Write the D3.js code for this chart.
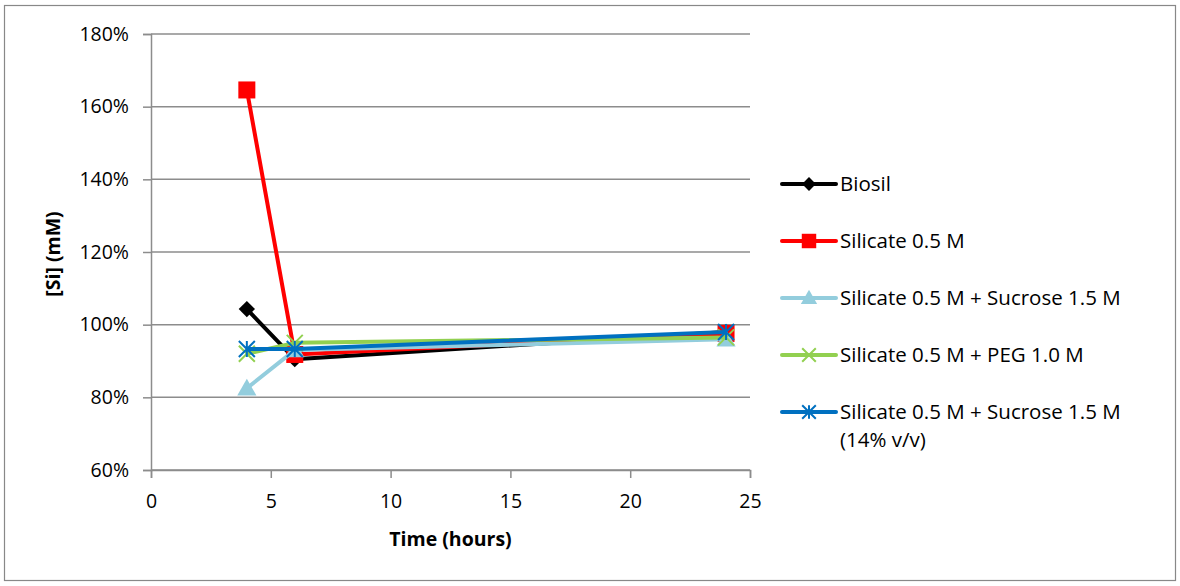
<!DOCTYPE html>
<html>
<head>
<meta charset="utf-8">
<script src="https://cdn.jsdelivr.net/npm/d3@7"></script>
<style>
  body { margin: 0; background: #fff; }
  text { font-family: "Open Sans", "Liberation Sans", sans-serif; fill: #000; }
</style>
</head>
<body>
<div id="chart"></div>
<script>
const times = [4, 6, 24];
const seriesNames = [
  "Biosil",
  "Silicate 0.5 M",
  "Silicate 0.5 M + Sucrose 1.5 M",
  "Silicate 0.5 M + PEG 1.0 M",
  "Silicate 0.5 M + Sucrose 1.5 M (14% v/v)"
];
const biosil = [104.3, 90.5, 98.0];
const silicate = [164.6, 91.8, 97.6];
const sucrose = [82.5, 93.0, 96.0];
const peg = [92.0, 95.0, 96.5];
const sucrose14 = [93.3, 93.3, 98.0];
const yTicks = [60, 80, 100, 120, 140, 160, 180];
const xTicks = [0, 5, 10, 15, 20, 25];

const colors = ["#000000", "#ff0000", "#93cddd", "#92d050", "#0070c0"];
const symbols = ["diamond", "square", "triangle", "x", "star"];
const allValues = [biosil, silicate, sucrose, peg, sucrose14];

const W = 1180, H = 586;
const margin = { top: 34, left: 151 };
const width = 599, height = 436;

const svg = d3.select("#chart").append("svg")
  .attr("width", W).attr("height", H);

// outer frame
svg.append("rect")
  .attr("x", 4.5).attr("y", 5.5).attr("width", 1171).attr("height", 575)
  .attr("fill", "#fff").attr("stroke", "#888").attr("stroke-width", 1.2);

const g = svg.append("g").attr("transform", `translate(${margin.left},${margin.top})`);

const x = d3.scaleLinear().domain([0, 25]).range([0, width]);
const y = d3.scaleLinear().domain([60, 180]).range([height, 0]);

// gridlines
g.selectAll(".grid").data(yTicks).enter().append("line")
  .attr("x1", 0).attr("x2", width)
  .attr("y1", d => y(d)).attr("y2", d => y(d))
  .attr("stroke", "#8c8c8c").attr("stroke-width", 1.5);

// y axis
const yAxis = g.append("g")
  .call(d3.axisLeft(y).tickValues(yTicks).tickSize(8).tickPadding(14).tickFormat(d => d + "%"));
yAxis.selectAll("path, line").attr("stroke", "#8c8c8c").attr("stroke-width", 1.5);
yAxis.selectAll("text").style("font-size", "19.5px").attr("fill", "#000");

// x axis
const xAxis = g.append("g").attr("transform", `translate(0,${height})`)
  .call(d3.axisBottom(x).tickValues(xTicks).tickSize(8).tickPadding(16));
xAxis.selectAll("path, line").attr("stroke", "#8c8c8c").attr("stroke-width", 1.5);
xAxis.selectAll("text").style("font-size", "19.5px").attr("fill", "#000");

// axis titles
svg.append("text")
  .attr("transform", `translate(60,${margin.top + height / 2 + 2}) rotate(-90)`)
  .attr("text-anchor", "middle")
  .style("font-size", "19.5px").style("font-weight", "bold")
  .text("[Si] (mM)");
svg.append("text")
  .attr("x", margin.left + width / 2).attr("y", 546)
  .attr("text-anchor", "middle")
  .style("font-size", "19.5px").style("font-weight", "bold")
  .text("Time (hours)");

function drawMarker(sel, type, color, size) {
  const s = size;
  if (type === "diamond") {
    sel.append("path").attr("d", d3.symbol(d3.symbolDiamond2, s * s * 1.0)())
      .attr("fill", color);
  } else if (type === "square") {
    sel.append("rect").attr("x", -s / 2).attr("y", -s / 2).attr("width", s).attr("height", s)
      .attr("fill", color);
  } else if (type === "triangle") {
    sel.append("path").attr("d", `M0,${-s * 0.6}L${s * 0.6},${s * 0.45}L${-s * 0.6},${s * 0.45}Z`)
      .attr("fill", color);
  } else if (type === "x") {
    const h = s / 2;
    sel.append("path").attr("d", `M${-h},${-h}L${h},${h}M${-h},${h}L${h},${-h}`)
      .attr("stroke", color).attr("stroke-width", 2);
  } else if (type === "star") {
    const h = s / 2;
    sel.append("path").attr("d", `M${-h},${-h}L${h},${h}M${-h},${h}L${h},${-h}M0,${-h}L0,${h}`)
      .attr("stroke", color).attr("stroke-width", 2);
  }
}

const markerSize = [13, 17, 16, 16, 16];
const line = d3.line().x(d => x(d.t)).y(d => y(d.v));

allValues.forEach((vals, i) => {
  const pts = times.map((t, j) => ({ t, v: vals[j] }));
  g.append("path").datum(pts)
    .attr("d", line)
    .attr("fill", "none")
    .attr("stroke", colors[i])
    .attr("stroke-width", 4)
    .attr("stroke-linejoin", "round");
  pts.forEach(p => {
    const m = g.append("g").attr("transform", `translate(${x(p.t)},${y(p.v)})`);
    drawMarker(m, symbols[i], colors[i], markerSize[i]);
  });
});

// legend
const legendY = [184, 241, 298, 355, 412];
const legend = svg.append("g");
seriesNames.forEach((name, i) => {
  const lg = legend.append("g").attr("transform", `translate(782,${legendY[i]})`);
  lg.append("line").attr("x1", 0).attr("x2", 54).attr("y1", 0).attr("y2", 0)
    .attr("stroke", colors[i]).attr("stroke-width", 4).attr("stroke-linecap", "round");
  const m = lg.append("g").attr("transform", "translate(27,0)");
  drawMarker(m, symbols[i], colors[i], markerSize[i] * 0.85);
  const txt = lg.append("text").attr("x", 58).attr("y", 7).style("font-size", "20.5px");
  if (i === 4) {
    txt.append("tspan").attr("x", 58).text("Silicate 0.5 M + Sucrose 1.5 M");
    txt.append("tspan").attr("x", 58).attr("dy", 28).text("(14% v/v)");
  } else {
    txt.text(name);
  }
});
</script>
</body>
</html>
